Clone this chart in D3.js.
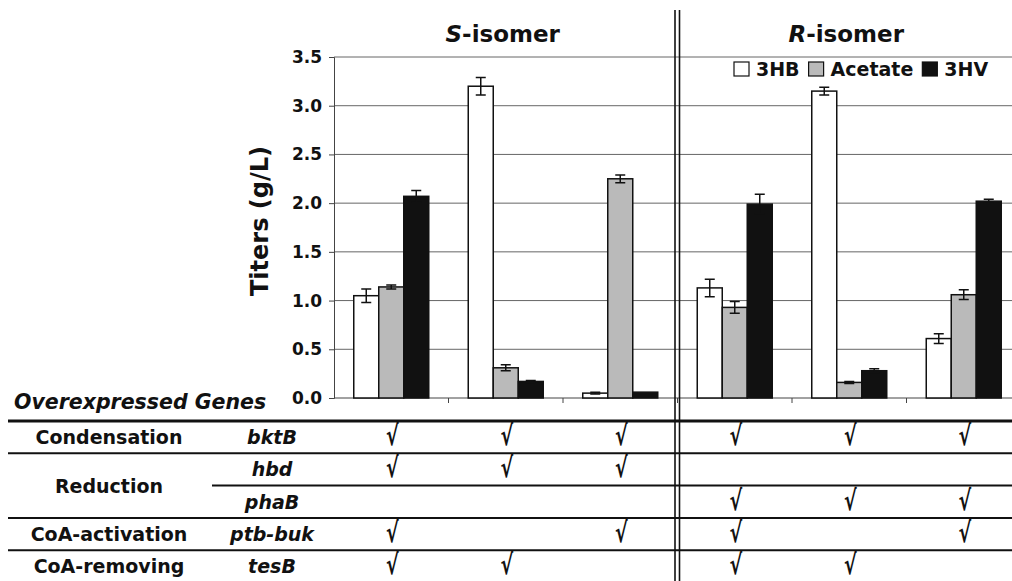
<!DOCTYPE html>
<html>
<head>
<meta charset="utf-8">
<script src="https://cdn.jsdelivr.net/npm/d3@7"></script>
<style>
  body { margin: 0; background: #fff; }
  svg { display: block; font-family: "DejaVu Sans", sans-serif; font-weight: bold; }
</style>
</head>
<body>
<svg id="chart" width="1012" height="581"></svg>
<script>
// data
const categories = ["S1", "S2", "S3", "R1", "R2", "R3"]
const series = ["3HB", "Acetate", "3HV"]
const hb = [1.05, 3.20, 0.05, 1.13, 3.15, 0.61]
const hbErr = [0.07, 0.09, 0.01, 0.09, 0.04, 0.05]
const acetate = [1.14, 0.31, 2.25, 0.93, 0.16, 1.06]
const acetateErr = [0.02, 0.03, 0.04, 0.06, 0.01, 0.05]
const hv = [2.07, 0.17, 0.06, 1.99, 0.28, 2.02]
const hvErr = [0.06, 0.01, 0.00, 0.10, 0.02, 0.02]
const yTicks = [0, 0.5, 1, 1.5, 2, 2.5, 3, 3.5]
const panelTitles = [["S", "-isomer"], ["R", "-isomer"]]

const geneRows = [
    {group: "Condensation", gene: "bktB", checks: ["S1", "S2", "S3", "R1", "R2", "R3"]},
    {group: "Reduction", gene: "hbd", checks: ["S1", "S2", "S3"]},
    {group: "Reduction", gene: "phaB", checks: ["R1", "R2", "R3"]},
    {group: "CoA-activation", gene: "ptb-buk", checks: ["S1", "S3", "R1", "R3"]},
    {group: "CoA-removing", gene: "tesB", checks: ["S1", "S2", "R1", "R2"]}
]

const fills = {"3HB": "#ffffff", "Acetate": "#bababa", "3HV": "#111111"}
const values = {"3HB": hb, "Acetate": acetate, "3HV": hv}
const errors = {"3HB": hbErr, "Acetate": acetateErr, "3HV": hvErr}

let svg = d3.select('#chart')

let left = 334, bottom = 398, catStep = 114.5
let x = d3.scaleBand().domain(categories).range([left, left + catStep * 6])
let xSub = d3.scaleBand().domain(series).range([0, x.bandwidth()]).paddingOuter(0.79)
let y = d3.scaleLinear().domain([0, 3.5]).range([bottom, 57])

// gridlines
svg.append('g').selectAll('line')
    .data(yTicks.filter(t => t > 0))
    .enter().append('line')
    .attr('x1', left).attr('x2', 1012)
    .attr('y1', t => y(t)).attr('y2', t => y(t))
    .attr('stroke', '#666').attr('stroke-width', 1)

// y axis
let yAxis = svg.append('g')
    .attr('transform', 'translate(' + left + ',0)')
    .call(d3.axisLeft(y).tickValues(yTicks).tickFormat(d3.format('.1f')).tickSize(5).tickPadding(7))
yAxis.select('.domain').attr('stroke', '#444')
yAxis.selectAll('.tick line').attr('stroke', '#444')
yAxis.selectAll('text').attr('font-size', 17).attr('font-weight', 'bold').attr('fill', '#111')
    .attr('font-family', '"DejaVu Sans", sans-serif')

// x axis (ticks between categories)
let xAxis = svg.append('g')
    .attr('transform', 'translate(0,' + bottom + ')')
xAxis.append('line').attr('x1', left).attr('x2', 1012).attr('stroke', '#444')
xAxis.selectAll('line.tk')
    .data(categories.slice(1))
    .enter().append('line')
    .attr('class', 'tk')
    .attr('x1', c => x(c)).attr('x2', c => x(c))
    .attr('y1', 0).attr('y2', 5)
    .attr('stroke', '#444')

// bars
let groups = svg.append('g').selectAll('g')
    .data(categories)
    .enter().append('g')
    .attr('transform', c => 'translate(' + x(c) + ',0)')

groups.each(function(c, i) {
    let g = d3.select(this)
    series.forEach(s => {
        let v = values[s][i]
        let e = errors[s][i]
        let bx = xSub(s)
        g.append('rect')
            .attr('x', bx).attr('width', xSub.bandwidth())
            .attr('y', y(v)).attr('height', y(0) - y(v))
            .attr('fill', fills[s]).attr('stroke', '#111').attr('stroke-width', 1.5)
        if (e > 0) {
            let cx = bx + xSub.bandwidth() / 2
            g.append('path')
                .attr('d', 'M' + cx + ',' + y(v + e) + 'V' + y(v - e)
                    + 'M' + (cx - 5) + ',' + y(v + e) + 'H' + (cx + 5)
                    + 'M' + (cx - 5) + ',' + y(v - e) + 'H' + (cx + 5))
                .attr('stroke', '#111').attr('stroke-width', 1.5).attr('fill', 'none')
        }
    })
})

// panel titles
panelTitles.forEach((t, i) => {
    let cx = i === 0 ? (x('S1') + x('S3') + x.bandwidth()) / 2 : (x('R1') + x('R3') + x.bandwidth()) / 2
    let txt = svg.append('text')
        .attr('x', cx - 3).attr('y', 42)
        .attr('text-anchor', 'middle')
        .attr('font-size', 23).attr('fill', '#111')
    txt.append('tspan').attr('font-style', 'italic').text(t[0])
    txt.append('tspan').text(t[1])
})

// y label
svg.append('text')
    .attr('transform', 'translate(268,221) rotate(-90)')
    .attr('text-anchor', 'middle')
    .attr('font-size', 24).attr('fill', '#111')
    .text('Titers (g/L)')

// legend
let legend = svg.append('g').attr('transform', 'translate(734,62)')
let lx = 0
series.forEach(s => {
    legend.append('rect')
        .attr('x', lx).attr('y', 0).attr('width', 15).attr('height', 14)
        .attr('fill', fills[s]).attr('stroke', '#111').attr('stroke-width', 1.2)
    let t = legend.append('text')
        .attr('x', lx + 22).attr('y', 14)
        .attr('font-size', 19).attr('fill', '#111')
        .text(s)
    lx += 22 + t.node().getComputedTextLength() + 9
})

// table
svg.append('text')
    .attr('x', 14).attr('y', 409)
    .attr('font-size', 20.5).attr('font-style', 'italic').attr('fill', '#111')
    .text('Overexpressed Genes')

let rowTop = 421, rowH = 32.3
let rowY = i => rowTop + i * rowH

svg.append('line')
    .attr('x1', 8).attr('x2', 1012).attr('y1', rowTop).attr('y2', rowTop)
    .attr('stroke', '#111').attr('stroke-width', 3)

geneRows.forEach((r, i) => {
    if (i > 0) {
        let partial = r.group === geneRows[i - 1].group
        svg.append('line')
            .attr('x1', partial ? 212 : 8).attr('x2', 1012)
            .attr('y1', rowY(i)).attr('y2', rowY(i))
            .attr('stroke', '#111').attr('stroke-width', 2)
    }
    let cy = rowY(i) + rowH / 2
    svg.append('text')
        .attr('x', 272).attr('y', cy + 7)
        .attr('text-anchor', 'middle')
        .attr('font-size', 19).attr('font-style', 'italic').attr('fill', '#111')
        .text(r.gene)
    r.checks.forEach(c => {
        svg.append('text')
            .attr('transform', 'translate(' + (x(c) + x.bandwidth() / 2 + 1) + ',' + (cy + 8) + ') scale(0.68,1)')
            .attr('text-anchor', 'middle')
            .attr('font-family', '"DejaVu Sans", sans-serif')
            .attr('font-weight', 'bold')
            .attr('font-size', 28).attr('fill', '#111')
            .text('\u221A')
    })
})

// group labels (span rows of same group)
let groupNames = Array.from(new Set(geneRows.map(r => r.group)))
groupNames.forEach(gname => {
    let idx = geneRows.map((r, i) => r.group === gname ? i : -1).filter(i => i >= 0)
    let cy = (rowY(idx[0]) + rowY(idx[idx.length - 1] + 1)) / 2
    svg.append('text')
        .attr('x', 109).attr('y', cy + 7)
        .attr('text-anchor', 'middle')
        .attr('font-size', 19).attr('fill', '#111')
        .text(gname)
})

// double divider between isomers
let divX = x('R1')
;[-2.5, 2].forEach(d => {
    svg.append('line')
        .attr('x1', divX + d).attr('x2', divX + d)
        .attr('y1', 10).attr('y2', 581)
        .attr('stroke', '#111').attr('stroke-width', 1.6)
})
</script>
</body>
</html>
